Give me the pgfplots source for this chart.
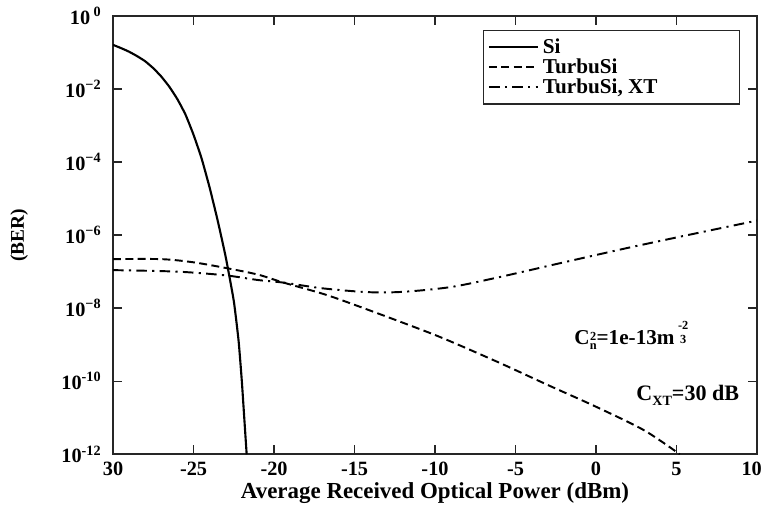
\documentclass[border=0pt]{standalone}
\usepackage{fontspec}
\setmainfont{Liberation Serif}
\usepackage{pgfplots}
\pgfplotsset{compat=1.18}

% 1 px of the reference = 0.567pt
\def\px{0.567pt}

\begin{document}
\begin{tikzpicture}
\begin{axis}[
    scale only axis,
    width=365pt, height=248.4pt,
    ymode=log,
    xmin=-30, xmax=10,
    ymin=1e-12, ymax=1,
    xtick={-30,-25,...,10},
    xticklabels={30,-25,-20,-15,-10,-5,0,5,{\hspace*{-6pt}10}},
    ytick={1e-12,1e-10,1e-8,1e-6,1e-4,1e-2,1},
    yticklabels={10\textsuperscript{-12},10\textsuperscript{-10},10\textsuperscript{−8},10\textsuperscript{−6},10\textsuperscript{−4},10\textsuperscript{−2},10\,\textsuperscript{0}},
    minor tick length=0pt,
    tick align=inside,
    major tick length=5pt,
    axis line style={line width=1.1pt, black!85},
    every tick/.style={black!85, line width=0.8pt},
    tick label style={font=\fontsize{11.5}{13}\selectfont\bfseries},
    xticklabel style={yshift=-1pt},
    yticklabel style={xshift=-3pt},
    xlabel={Average Received Optical Power (dBm)},
    xlabel style={font=\fontsize{13}{15}\selectfont\bfseries, yshift=3pt},
    ylabel={(BER)},
    ylabel style={font=\fontsize{11}{13}\selectfont\bfseries, yshift=12pt},
    legend style={at={(0.974,0.968)}, anchor=north east,
        font=\fontsize{12}{12}\selectfont\bfseries,
        draw=black!85, line width=0.8pt,
        row sep=-2.5pt, inner sep=2.5pt,
        legend cell align=left},
    legend image code/.code={\draw[#1] (0cm,0cm) -- (28pt,0cm);},
]
% Si
\addplot[black, line width=1.2pt, smooth, tension=0.3] coordinates {
(-30,0.162) (-29.5,0.132) (-29,0.105) (-28.5,0.0794) (-28,0.0575) (-27.5,0.0372)
(-27,0.0219) (-26.5,0.0115) (-26,5.25e-3) (-25.5,2.0e-3) (-25,5.6e-4) (-24.5,1.26e-4)
(-24,2.0e-5) (-23.5,2.5e-6) (-23,2.5e-7) (-22.5,1.58e-8) (-22.2,1.26e-9) (-22,1e-10)
(-21.85,1e-11) (-21.7,1e-12)
};
\addlegendentry{Si}
% TurbuSi
\addplot[black, line width=1.1pt, dash pattern=on 4.5pt off 2.5pt, smooth, tension=0.5] coordinates {
(-30,2.2e-7) (-27,2.2e-7) (-25,1.8e-7) (-23,1.26e-7) (-21,8.3e-8) (-19.4,5.0e-8)
(-17,2.5e-8) (-15.3,1.38e-8) (-12,4.0e-9) (-9.5,1.5e-9) (-6,3.2e-10) (-3,7.9e-11)
(0,2.0e-11) (3,4.5e-12) (5.2,1e-12)
};
\addlegendentry{TurbuSi}
% TurbuSi, XT
\addplot[black, line width=1.1pt, dash pattern=on 6pt off 3pt on 1.2pt off 3pt, smooth, tension=0.5] coordinates {
(-30,1.1e-7) (-26,1.0e-7) (-23,7.9e-8) (-21,5.9e-8) (-19.4,5.0e-8) (-17,3.5e-8)
(-14.2,2.75e-8) (-12,2.8e-8) (-9,3.8e-8) (-6,7.1e-8) (-2,1.8e-7) (2,4.5e-7)
(6,1.07e-6) (10,2.5e-6)
};
\addlegendentry{TurbuSi, XT\hspace*{42pt}}

\node[font=\fontsize{12}{12}\selectfont\bfseries] at (axis cs:2.2,1.8e-9)
  {C\raisebox{-0.55ex}{\scriptsize\shortstack{2\\[-1pt]n}}=1e-13m\,\raisebox{0.1ex}{\scriptsize\shortstack{-2\\3}}};
\node[font=\fontsize{12.5}{13}\selectfont\bfseries] at (axis cs:5.7,4.2e-11)
  {C\raisebox{-0.5ex}{\footnotesize XT}=30 dB};
\end{axis}
\pgfresetboundingbox
\path ([shift={(-113*\px,-56*\px)}]current axis.south west)
  rectangle ([shift={(5*\px,16*\px)}]current axis.north east);
\end{tikzpicture}
\end{document}
